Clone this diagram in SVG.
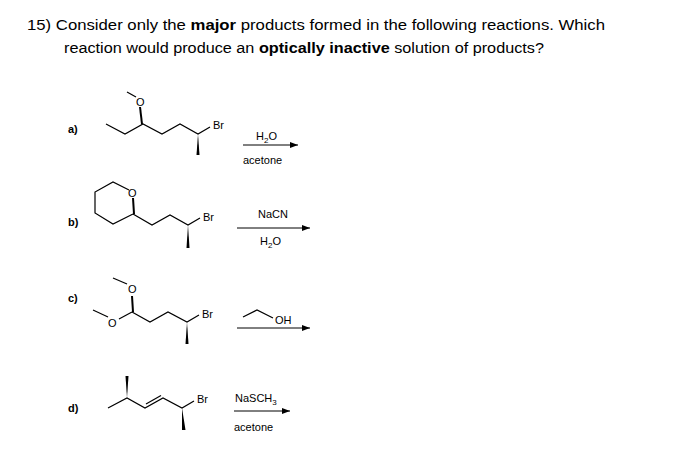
<svg xmlns="http://www.w3.org/2000/svg" width="674" height="466" viewBox="0 0 674 466">
<defs>
<marker id="ah" markerWidth="8" markerHeight="6" refX="8" refY="3" orient="auto" markerUnits="userSpaceOnUse"><path d="M0,0 L8,3 L0,6 Z" fill="#000"/></marker>
</defs>
<style>
text{font-family:"Liberation Sans",Arial,sans-serif;fill:#000}
.t{font-size:14px}
.s{font-size:11px}
.l{font-size:11px;font-weight:bold}
.b{stroke:#000;stroke-width:1.2;fill:none}
.w{fill:#000}
.ar{stroke:#000;stroke-width:1;marker-end:url(#ah)}
</style>
<rect width="674" height="466" fill="#fff"/>
<g id="title">
<text class="t" x="27" y="30" textLength="578" lengthAdjust="spacingAndGlyphs">15)  Consider only the <tspan font-weight="bold">major</tspan> products formed in the following reactions. Which</text>
<text class="t" x="64" y="53" textLength="480" lengthAdjust="spacingAndGlyphs">reaction would produce an <tspan font-weight="bold">optically inactive</tspan> solution of products?</text>
</g>
<g id="a">
<text class="l" x="68" y="133">a)</text>
<polyline class="b" points="106,124 125,134 143,124 162,134 180,124 198,134 210,127"/>
<polyline class="b" points="136,97 127,92"/>
<polygon class="w" points="143,124 141,107 139,107 141,124"/>
<text class="s" x="136" y="106">O</text>
<polygon class="w" points="198,134 196.5,155 199.5,155"/>
<text class="s" x="213" y="129">Br</text>
<line class="ar" x1="243" y1="145" x2="298" y2="145"/>
<text class="s" x="256" y="140">H<tspan font-size="8" dy="3">2</tspan><tspan dy="-3">O</tspan></text>
<text class="s" x="243" y="164">acetone</text>
</g>
<g id="b">
<text class="l" x="68" y="226">b)</text>
<polyline class="b" points="129,190 113,182 95,192 95,213 113,224 133,214"/>
<polygon class="w" points="133,214 132,198 134,198 135,214"/>
<text class="s" x="128" y="197">O</text>
<polyline class="b" points="133,214 152,225 170,215 188,225 200,218"/>
<polygon class="w" points="188,225 186.5,248 189.5,248"/>
<text class="s" x="203" y="221">Br</text>
<line class="ar" x1="237" y1="228" x2="310" y2="228"/>
<text class="s" x="258" y="218">NaCN</text>
<text class="s" x="260" y="245">H<tspan font-size="8" dy="3">2</tspan><tspan dy="-3">O</tspan></text>
</g>
<g id="c">
<text class="l" x="68" y="302">c)</text>
<polyline class="b" points="127,284 113,278"/>
<text class="s" x="128" y="293">O</text>
<polygon class="w" points="132,312 131,296 133,296 134,312"/>
<polyline class="b" points="132,312 119,319"/>
<text class="s" x="108" y="327">O</text>
<polyline class="b" points="108,317 93,310"/>
<polyline class="b" points="132,312 150,322 168,312 187,322 199,315"/>
<polygon class="w" points="187,322 185.5,344 188.5,344"/>
<text class="s" x="202" y="318">Br</text>
<line class="ar" x1="237" y1="328" x2="310" y2="328"/>
<polyline class="b" points="243,317 257,310 273,318"/>
<text class="s" x="275" y="324">OH</text>
</g>
<g id="d">
<text class="l" x="68" y="412">d)</text>
<polyline class="b" points="108,408 127,398 145,408 163,398 182,408 194,401"/>
<line class="b" x1="146" y1="404" x2="161" y2="395.5"/>
<polygon class="w" points="127,398 125.5,376 128.5,376"/>
<polygon class="w" points="182,408 182,430 185.5,430"/>
<text class="s" x="197" y="403">Br</text>
<line class="ar" x1="234" y1="411" x2="290" y2="411"/>
<text class="s" x="235" y="402">NaSCH<tspan font-size="8" dy="3">3</tspan></text>
<text class="s" x="234" y="431">acetone</text>
</g>
</svg>
